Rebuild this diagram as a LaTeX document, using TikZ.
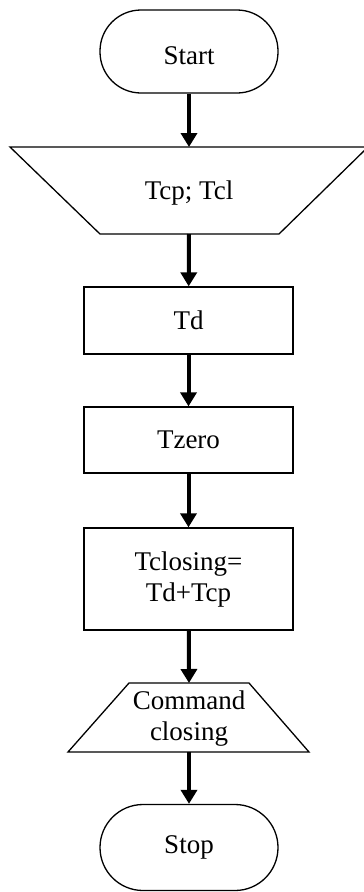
\documentclass[tikz,border=0pt]{standalone}
\usepackage{fontspec}
\setmainfont{Liberation Serif}
\usetikzlibrary{arrows.meta}
\begin{document}
\begin{tikzpicture}[x=1pt,y=-1pt,
  every node/.style={font=\fontsize{27}{31}\selectfont},
  shp/.style={draw=black, line width=1.3pt},
  term/.style={shp, rectangle, rounded corners=41pt, minimum width=178pt, minimum height=83pt, inner sep=0pt},
  procbox/.style={shp, rectangle, minimum width=209pt, inner sep=0pt, align=center},
  txt/.style={inner sep=0pt, align=center},
  arr/.style={line width=4pt, -{Triangle[length=14pt,width=16pt]}}
]
\useasboundingbox (0,0) rectangle (364,892);

\node[term] (start) at (189,51.5) {};
\node[txt] (starttxt) at (189,55.5) {Start};

\draw[shp] (10,147) -- (368,147) -- (279,234) -- (100,234) -- cycle;
\node[txt] (io1) at (189,193) {Tcp; Tcl};
\coordinate (io1t) at (189,147);
\coordinate (io1b) at (189,234);

\node[procbox, minimum height=67pt] (td) at (188.5,320.5) {Td};
\node[procbox, minimum height=66pt] (tzero) at (188.5,440) {Tzero};
\node[procbox, minimum height=102pt] (tcl) at (188.5,579) {Tclosing=\\Td+Tcp};

\draw[shp] (129,683) -- (249,683) -- (309,752) -- (68,752) -- cycle;
\node[txt] (cmd) at (189,719) {Command\\closing};
\coordinate (cmdt) at (189,683);
\coordinate (cmdb) at (189,752);

\node[term, minimum height=86pt, rounded corners=43pt] (stop) at (189,847.5) {Stop};

\draw[arr] (start) -- (io1t);
\draw[arr] (io1b) -- (td);
\draw[arr] (td) -- (tzero);
\draw[arr] (tzero) -- (tcl);
\draw[arr] (tcl) -- (cmdt);
\draw[arr] (cmdb) -- (stop);
\end{tikzpicture}
\end{document}
